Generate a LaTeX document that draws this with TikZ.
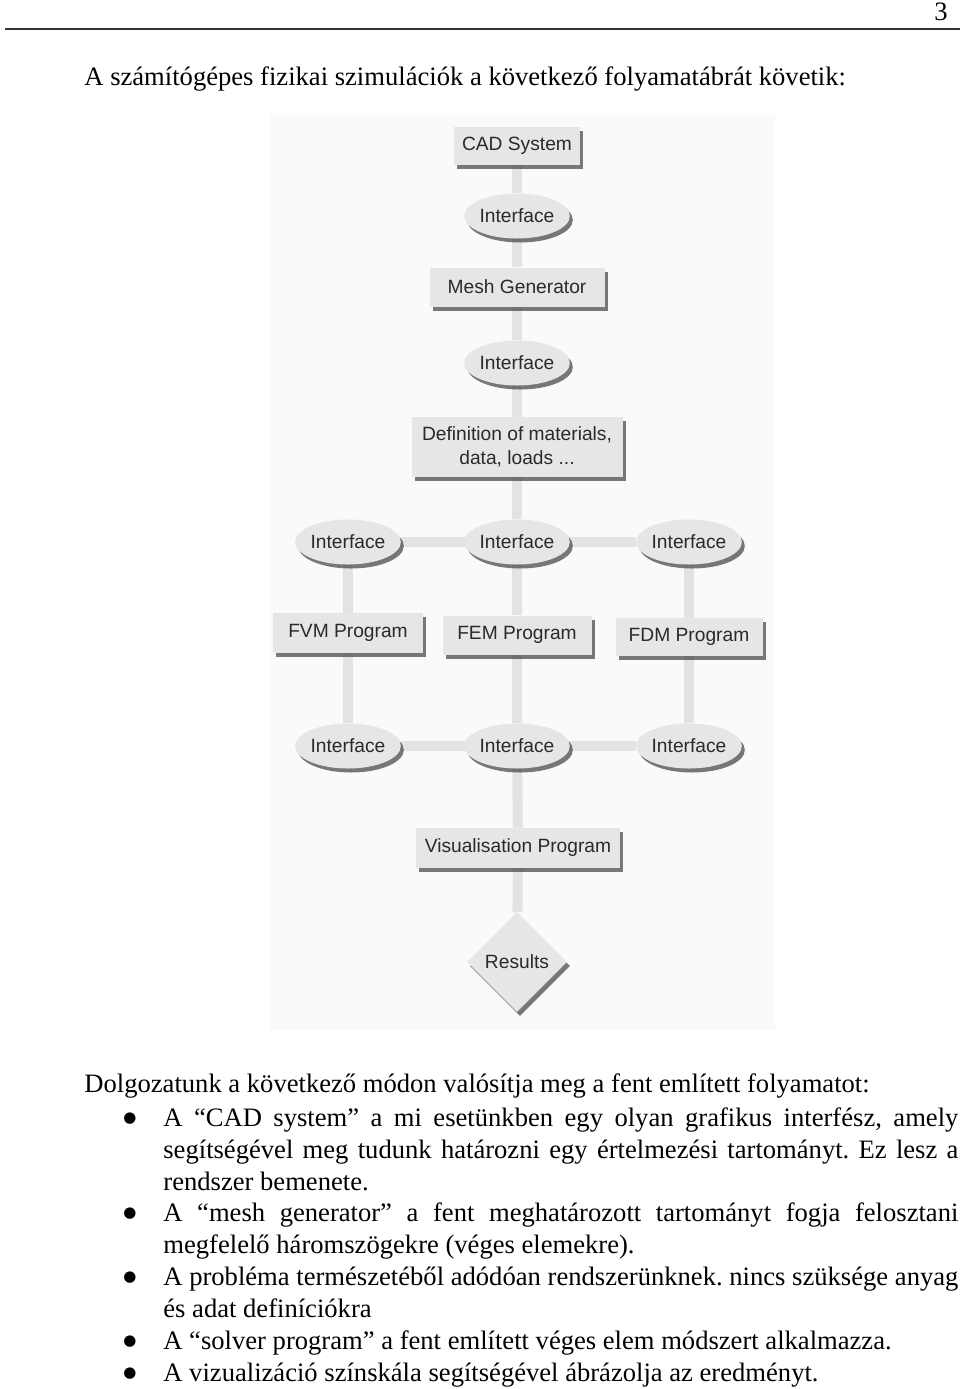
\documentclass[tikz,border=0pt]{standalone}
\usepackage{fontspec}
\setmainfont{Liberation Serif}
\newfontfamily\diagfont{Liberation Sans}
\newfontfamily\markfont{DejaVu Sans}
\usepackage{xcolor}
\usetikzlibrary{shapes.geometric,shadows,backgrounds}

\definecolor{boxgray}{HTML}{E6E6E6}
\definecolor{linkgray}{HTML}{E3E3E3}
\definecolor{panelgray}{HTML}{FAFAFA}
\definecolor{labelgray}{HTML}{2A2A2A}

\newcommand{\itemmark}{\noindent\llap{\makebox[20pt][l]{\raisebox{1.8pt}{\markfont\fontsize{7.5}{12}\selectfont ●}}}}

\begin{document}
\begin{tikzpicture}[x=0.5pt, y=-0.5pt]
  \tikzstyle{procbox} = [rectangle, fill=boxgray, inner sep=0pt, align=center,
    font=\diagfont\fontsize{9.6}{12}\selectfont, text=labelgray,
    drop shadow={shadow xshift=1.5pt, shadow yshift=-2pt, fill=black!75, opacity=0.7}]
  \tikzstyle{iface} = [procbox, ellipse, minimum width=45.5pt, minimum height=22.5pt]
  \tikzstyle{resultbox} = [procbox, diamond, minimum width=50pt, minimum height=50pt]
  \tikzstyle{link} = [line width=5pt, linkgray]
  \tikzstyle{bodytext} = [inner sep=0pt, font=\fontsize{13.3}{16}\selectfont\frenchspacing]
  \tikzstyle{bulletitem} = [bodytext, anchor=base west, text width=397.5pt, align=justify]

  \useasboundingbox (0,0) rectangle (960,1389);

  % page head
  \node[bodytext, anchor=base east] (pagenum) at (948,20) {3};
  \draw[line width=0.8pt, black!80] (5,29) -- (960,29);
  \node[bodytext, anchor=base west] (intro) at (84,85)
    {A számítógépes fizikai szimulációk a következő folyamatábrát követik:};

  % flow chart
  \node[procbox, minimum width=63pt, minimum height=19pt] (cad) at (517,146) {CAD System};
  \node[iface] (if1) at (517,216) {Interface};
  \node[procbox, minimum width=87.5pt, minimum height=19.5pt] (mesh) at (517,287) {Mesh Generator};
  \node[iface] (if2) at (517,363) {Interface};
  \node[procbox, minimum width=105.5pt, minimum height=30pt] (defn) at (517,447)
    {Definition of materials,\\ data, loads ...};

  \node[iface] (ifA) at (348,542) {Interface};
  \node[iface] (ifB) at (517,542) {Interface};
  \node[iface] (ifC) at (689,542) {Interface};

  \node[procbox, minimum width=75pt, minimum height=20pt] (fvm) at (348,633) {FVM Program};
  \node[procbox, minimum width=74.5pt, minimum height=19.5pt] (fem) at (517,635) {FEM Program};
  \node[procbox, minimum width=73.5pt, minimum height=19pt] (fdm) at (689,637) {FDM Program};

  \node[iface] (ifD) at (348,746) {Interface};
  \node[iface] (ifE) at (517,746) {Interface};
  \node[iface] (ifF) at (689,746) {Interface};

  \node[procbox, minimum width=102pt, minimum height=20pt] (vis) at (518,848) {Visualisation Program};
  \node[resultbox] (res) at (517,962) {Results};

  \begin{scope}[on background layer]
    \fill[panelgray] (270,115) rectangle (775,1030);
    \draw[link] (cad) -- (if1) -- (mesh) -- (if2) -- (defn) -- (ifB);
    \draw[link] (ifA) -- (ifC);
    \draw[link] (ifD) -- (ifF);
    \draw[link] (ifA) -- (fvm) -- (ifD);
    \draw[link] (ifC) -- (fdm) -- (ifF);
    \draw[link] (ifB) -- (fem) -- (ifE) -- (vis) -- (res);
  \end{scope}

  % text below
  \node[bodytext, anchor=base west] (summary) at (84,1092)
    {Dolgozatunk a következő módon valósítja meg a fent említett folyamatot:};
  \node[bulletitem] (itemcad) at (163,1126)
    {\itemmark A “CAD system” a mi esetünkben egy olyan grafikus interfész, amely\linebreak
     segítségével meg tudunk határozni egy értelmezési tartományt. Ez lesz a\linebreak
     rendszer bemenete.};
  \node[bulletitem] (itemmesh) at (163,1221)
    {\itemmark A “mesh generator” a fent meghatározott tartományt fogja felosztani\linebreak
     megfelelő háromszögekre (véges elemekre).};
  \node[bulletitem] (itemdata) at (163,1285)
    {\itemmark A probléma természetéből adódóan rendszerünknek. nincs szüksége anyag\linebreak
     és adat definíciókra};
  \node[bulletitem] (itemsolver) at (163,1349)
    {\itemmark A “solver program” a fent említett véges elem módszert alkalmazza.};
  \node[bulletitem] (itemvis) at (163,1381)
    {\itemmark A vizualizáció színskála segítségével ábrázolja az eredményt.};
\end{tikzpicture}
\end{document}
